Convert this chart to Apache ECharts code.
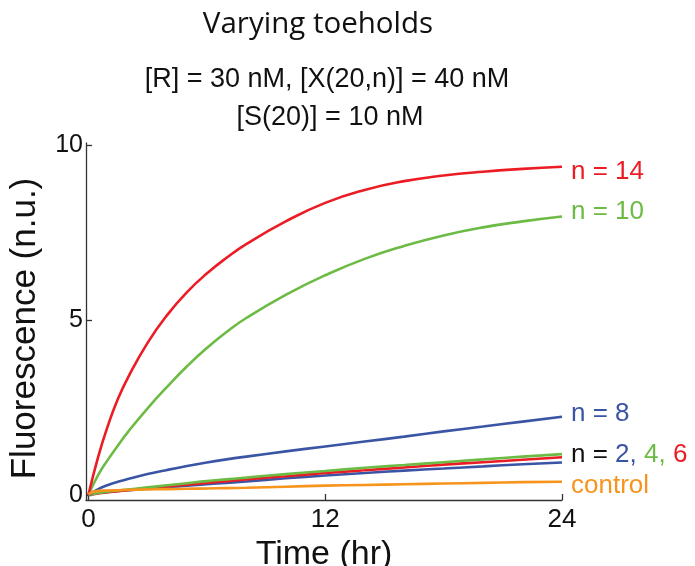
<!DOCTYPE html>
<html>
<head>
<meta charset="utf-8">
<script src="https://cdn.jsdelivr.net/npm/echarts@6/dist/echarts.min.js"></script>
<style>html,body{margin:0;padding:0;background:#fff}#c{width:695px;height:566px}</style>
</head>
<body>
<div id="c"></div>
<script>
// Time points (hr)
var times = [0, 0.5, 1, 1.5, 2, 3, 4, 5, 6, 7, 8, 10, 12, 14, 16, 18, 20, 22, 24];
// Fluorescence (n.u.) per toehold length
var n14 = [0, 1.1, 2.0, 2.75, 3.35, 4.35, 5.15, 5.8, 6.33, 6.78, 7.17, 7.82, 8.35, 8.72, 8.97, 9.13, 9.24, 9.32, 9.38];
var n10 = [0, 0.58, 1.02, 1.42, 1.8, 2.48, 3.1, 3.68, 4.2, 4.66, 5.06, 5.72, 6.28, 6.75, 7.12, 7.42, 7.65, 7.82, 7.96];
var n8  = [0, 0.17, 0.29, 0.38, 0.46, 0.6, 0.72, 0.83, 0.93, 1.02, 1.1, 1.25, 1.39, 1.53, 1.67, 1.82, 1.96, 2.1, 2.24];
var n6  = [0, 0.05, 0.08, 0.11, 0.14, 0.2, 0.25, 0.3, 0.35, 0.4, 0.45, 0.54, 0.63, 0.71, 0.79, 0.87, 0.94, 1.01, 1.08];
var n4  = [0, 0.06, 0.1, 0.13, 0.16, 0.22, 0.28, 0.34, 0.4, 0.45, 0.5, 0.6, 0.69, 0.78, 0.86, 0.94, 1.02, 1.1, 1.17];
var n2  = [0, 0.06, 0.09, 0.12, 0.14, 0.19, 0.23, 0.27, 0.31, 0.35, 0.39, 0.48, 0.56, 0.63, 0.7, 0.76, 0.82, 0.88, 0.93];
var ctrl = [0.03, 0.12, 0.13, 0.14, 0.15, 0.16, 0.17, 0.18, 0.19, 0.2, 0.21, 0.24, 0.27, 0.29, 0.31, 0.33, 0.35, 0.37, 0.38];
// Tick labels
var xTicks = [0, 12, 24];
var yTicks = [0, 5, 10];

var RED = '#ec1c24', GREEN = '#6cbb45', BLUE = '#3b55a5', ORANGE = '#f7941d';
var SANS = 'Liberation Sans, Arial, Helvetica, sans-serif';

function pairs(v) { return times.map(function (t, i) { return [t, v[i]]; }); }
function line(name, data, color, endLabel) {
  var s = {
    name: name, type: 'line', data: pairs(data), smooth: 0.5, showSymbol: false, symbol: 'none',
    lineStyle: { color: color, width: 2.6 }, itemStyle: { color: color }, silent: true, animation: false
  };
  if (endLabel) s.endLabel = endLabel;
  return s;
}
function lbl(text, color, dy) {
  return { show: true, formatter: text, color: color, fontFamily: SANS, fontSize: 26, distance: 9, offset: [0, dy] };
}

var chart = echarts.init(document.getElementById('c'));
chart.setOption({
  backgroundColor: '#fff',
  animation: false,
  title: [
    { text: 'Varying toeholds', left: 318, top: 10, textAlign: 'center', padding: 0,
      textStyle: { fontFamily: 'Open Sans, Noto Sans, sans-serif', fontWeight: 'normal', fontSize: 29.5, color: '#111' } },
    { text: '[R] = 30 nM, [X(20,n)] = 40 nM', left: 327, top: 66, textAlign: 'center', padding: 0,
      textStyle: { fontFamily: SANS, fontWeight: 'normal', fontSize: 27, color: '#111' } },
    { text: '[S(20)] = 10 nM', left: 330, top: 104, textAlign: 'center', padding: 0,
      textStyle: { fontFamily: SANS, fontWeight: 'normal', fontSize: 27, color: '#111' } }
  ],
  grid: { left: 86, right: 133, top: 143, bottom: 66, containLabel: false, outerBoundsMode: 'none' },
  xAxis: {
    type: 'value', min: -0.12, max: 24,
    name: 'Time (hr)', nameLocation: 'middle', nameGap: 22,
    nameTextStyle: { fontFamily: SANS, fontSize: 34, color: '#111' },
    axisLine: { onZero: false, lineStyle: { color: '#333', width: 1.3 } },
    axisTick: { inside: true, length: 6, customValues: xTicks, lineStyle: { color: '#333', width: 1.3 } },
    axisLabel: { customValues: xTicks, fontFamily: SANS, fontSize: 26, color: '#111', margin: 7 },
    splitLine: { show: false }
  },
  yAxis: {
    type: 'value', min: -0.14, max: 10.06,
    name: 'Fluorescence (n.u.)', nameLocation: 'middle', nameGap: 43,
    nameTextStyle: { fontFamily: SANS, fontSize: 35, color: '#111', padding: [0, 14, 0, 0] },
    axisLine: { onZero: false, lineStyle: { color: '#333', width: 1.3 } },
    axisTick: { inside: true, length: 6, customValues: yTicks, lineStyle: { color: '#333', width: 1.3 } },
    axisLabel: { customValues: yTicks, fontFamily: SANS, fontSize: 25, color: '#111', margin: 3 },
    splitLine: { show: false }
  },
  series: [
    line('n = 2', n2, BLUE),
    line('n = 6', n6, RED),
    line('n = 4', n4, GREEN, {
      show: true, distance: 9, offset: [0, 1],
      formatter: '{k|n = }{b|2, }{g|4, }{r|6}',
      rich: {
        k: { color: '#111', fontFamily: SANS, fontSize: 26 },
        b: { color: BLUE, fontFamily: SANS, fontSize: 26 },
        g: { color: GREEN, fontFamily: SANS, fontSize: 26 },
        r: { color: RED, fontFamily: SANS, fontSize: 26 }
      }
    }),
    line('n = 8', n8, BLUE, lbl('n = 8', BLUE, -3)),
    line('n = 10', n10, GREEN, lbl('n = 10', GREEN, -5)),
    line('n = 14', n14, RED, lbl('n = 14', RED, 5)),
    line('control', ctrl, ORANGE, lbl('control', ORANGE, 4))
  ]
});
</script>
</body>
</html>
